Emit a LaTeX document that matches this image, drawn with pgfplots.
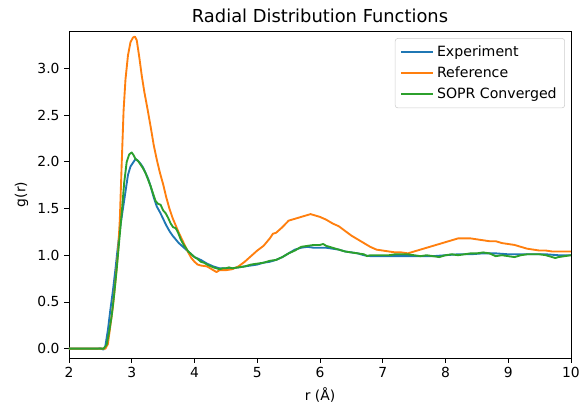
\documentclass[border=0pt]{standalone}
\usepackage{pgfplots}
\pgfplotsset{compat=1.18}
\usepackage{pgfplotstable}
\usepackage{fontspec}
\setmainfont{DejaVu Sans}

\definecolor{tabblue}{HTML}{1F77B4}
\definecolor{taborange}{HTML}{FF7F0E}
\definecolor{tabgreen}{HTML}{2CA02C}

% g(r) curves
\pgfplotstableread{
r g
2.0 0.0
2.3 0.0
2.45 0.0
2.5 0.005
2.55 -0.01
2.58 0.03
2.62 0.2
2.66 0.42
2.7 0.62
2.74 0.85
2.78 1.1
2.82 1.32
2.86 1.5
2.9 1.68
2.94 1.86
2.98 1.95
3.02 1.99
3.06 2.03
3.1 2.01
3.14 1.98
3.18 1.94
3.22 1.88
3.26 1.82
3.3 1.74
3.35 1.62
3.4 1.52
3.45 1.46
3.5 1.39
3.55 1.32
3.6 1.26
3.65 1.21
3.7 1.17
3.75 1.13
3.8 1.10
3.85 1.07
3.9 1.04
3.95 1.01
4.0 0.98
4.1 0.95
4.2 0.91
4.3 0.88
4.4 0.86
4.5 0.86
4.6 0.86
4.7 0.87
4.8 0.88
4.9 0.89
5.0 0.90
5.1 0.92
5.2 0.93
5.3 0.95
5.4 0.98
5.5 1.02
5.6 1.06
5.7 1.08
5.8 1.09
5.9 1.08
6.0 1.08
6.1 1.08
6.2 1.07
6.3 1.06
6.4 1.04
6.5 1.03
6.6 1.02
6.7 1.00
6.8 0.99
6.9 0.99
7.0 0.99
7.2 0.99
7.4 0.99
7.6 0.99
7.8 0.99
8.0 1.00
8.2 1.01
8.4 1.01
8.6 1.02
8.8 1.02
9.0 1.01
9.2 1.01
9.4 1.01
9.6 1.01
9.8 1.00
10.0 1.00
}\experiment

\pgfplotstableread{
r g
2.0 0.0
2.5 0.0
2.58 0.0
2.62 0.05
2.66 0.25
2.7 0.45
2.74 0.72
2.78 1.02
2.81 1.38
2.84 1.98
2.87 2.55
2.9 2.88
2.94 3.14
2.98 3.28
3.02 3.33
3.05 3.34
3.08 3.30
3.12 3.12
3.16 2.92
3.2 2.75
3.25 2.57
3.3 2.38
3.35 2.18
3.4 2.02
3.45 1.88
3.5 1.76
3.55 1.62
3.6 1.50
3.65 1.40
3.7 1.32
3.75 1.24
3.8 1.17
3.85 1.10
3.9 1.03
3.95 0.97
4.0 0.93
4.05 0.90
4.1 0.89
4.2 0.88
4.3 0.84
4.35 0.82
4.4 0.84
4.5 0.84
4.6 0.85
4.7 0.88
4.8 0.93
4.9 0.99
5.0 1.05
5.1 1.10
5.2 1.18
5.25 1.23
5.3 1.24
5.4 1.30
5.5 1.37
5.6 1.39
5.7 1.41
5.8 1.43
5.85 1.44
5.9 1.43
6.0 1.41
6.1 1.38
6.2 1.34
6.3 1.31
6.4 1.26
6.5 1.21
6.6 1.17
6.7 1.13
6.8 1.09
6.9 1.06
7.0 1.05
7.1 1.04
7.2 1.03
7.3 1.03
7.4 1.02
7.5 1.04
7.6 1.06
7.7 1.08
7.8 1.10
7.9 1.12
8.0 1.14
8.1 1.16
8.2 1.18
8.3 1.18
8.4 1.18
8.5 1.17
8.6 1.16
8.7 1.15
8.8 1.15
8.9 1.13
9.0 1.12
9.1 1.11
9.2 1.09
9.3 1.07
9.4 1.06
9.5 1.05
9.6 1.05
9.7 1.04
9.8 1.04
9.9 1.04
10.0 1.04
}\reference

\pgfplotstableread{
r g
2.0 0.0
2.5 0.0
2.55 0.0
2.6 0.04
2.64 0.18
2.68 0.35
2.72 0.58
2.76 0.85
2.8 1.15
2.84 1.45
2.88 1.78
2.92 2.0
2.96 2.08
3.0 2.10
3.03 2.07
3.06 2.03
3.1 2.01
3.14 1.97
3.18 1.93
3.22 1.88
3.26 1.81
3.3 1.74
3.34 1.66
3.38 1.58
3.42 1.55
3.46 1.54
3.5 1.48
3.54 1.45
3.58 1.40
3.62 1.34
3.66 1.30
3.7 1.29
3.74 1.24
3.78 1.17
3.82 1.12
3.86 1.08
3.9 1.04
3.95 1.01
4.0 0.98
4.05 0.96
4.1 0.93
4.15 0.92
4.2 0.90
4.3 0.87
4.4 0.85
4.45 0.86
4.5 0.86
4.55 0.87
4.6 0.86
4.7 0.87
4.8 0.88
4.9 0.90
5.0 0.91
5.1 0.92
5.2 0.94
5.3 0.95
5.4 0.98
5.5 1.02
5.6 1.05
5.7 1.09
5.8 1.10
5.9 1.11
6.0 1.11
6.05 1.12
6.1 1.10
6.2 1.08
6.3 1.06
6.4 1.04
6.5 1.03
6.6 1.02
6.7 1.01
6.75 0.99
6.8 1.00
6.9 1.00
7.0 1.00
7.1 1.00
7.2 1.01
7.3 1.01
7.4 1.01
7.5 1.00
7.6 0.99
7.7 1.00
7.8 0.99
7.9 0.98
8.0 1.00
8.1 1.01
8.2 1.00
8.3 1.01
8.4 1.02
8.5 1.02
8.6 1.03
8.7 1.02
8.8 0.99
8.9 1.00
9.0 0.99
9.1 0.98
9.2 1.00
9.3 1.01
9.4 1.01
9.5 1.01
9.6 1.00
9.7 0.98
9.75 0.97
9.8 0.98
9.9 0.99
10.0 1.00
}\sopr

\begin{document}
\begin{tikzpicture}
\path[use as bounding box] (0,0) rectangle (437.25pt,304.5pt);
\begin{axis}[
  at={(51.75pt,36pt)}, anchor=south west,
  scale only axis,
  width=376.5pt, height=245.25pt,
  xmin=2, xmax=10, ymin=-0.1, ymax=3.4,
  xtick={2,3,...,10},
  ytick={0,0.5,...,3.0},
  yticklabel style={/pgf/number format/.cd, fixed, fixed zerofill, precision=1},
  /pgf/number format/assume math mode=true,
  tick align=outside,
  xtick pos=bottom, ytick pos=left,
  major tick length=3.6pt,
  tick style={black, line width=0.6pt},
  axis line style={line width=0.6pt},
  ticklabel style={font=\fontsize{10.4}{12}\selectfont},
  label style={font=\fontsize{10.4}{12}\selectfont},
  xlabel={r (Å)}, ylabel={g(r)},
  title={Radial Distribution Functions},
  title style={font=\fontsize{13.4}{16}\selectfont, yshift=-3pt},
  legend style={at={(0.988,0.978)}, anchor=north east,
    draw=black!20, rounded corners=2pt,
    font=\fontsize{10.6}{12}\selectfont,
    row sep=2.2pt, inner xsep=4pt, inner ysep=3.5pt},
  legend cell align=left,
  legend image code/.code={\draw[#1, line width=1.4pt] (0pt,0pt) -- (24pt,0pt);},
  every axis plot/.append style={line width=1.4pt, line join=round},
]
\addplot[tabblue] table[x=r, y=g] {\experiment};
\addlegendentry{Experiment}
\addplot[taborange] table[x=r, y=g] {\reference};
\addlegendentry{Reference}
\addplot[tabgreen] table[x=r, y=g] {\sopr};
\addlegendentry{SOPR Converged}
\end{axis}
\end{tikzpicture}
\end{document}
